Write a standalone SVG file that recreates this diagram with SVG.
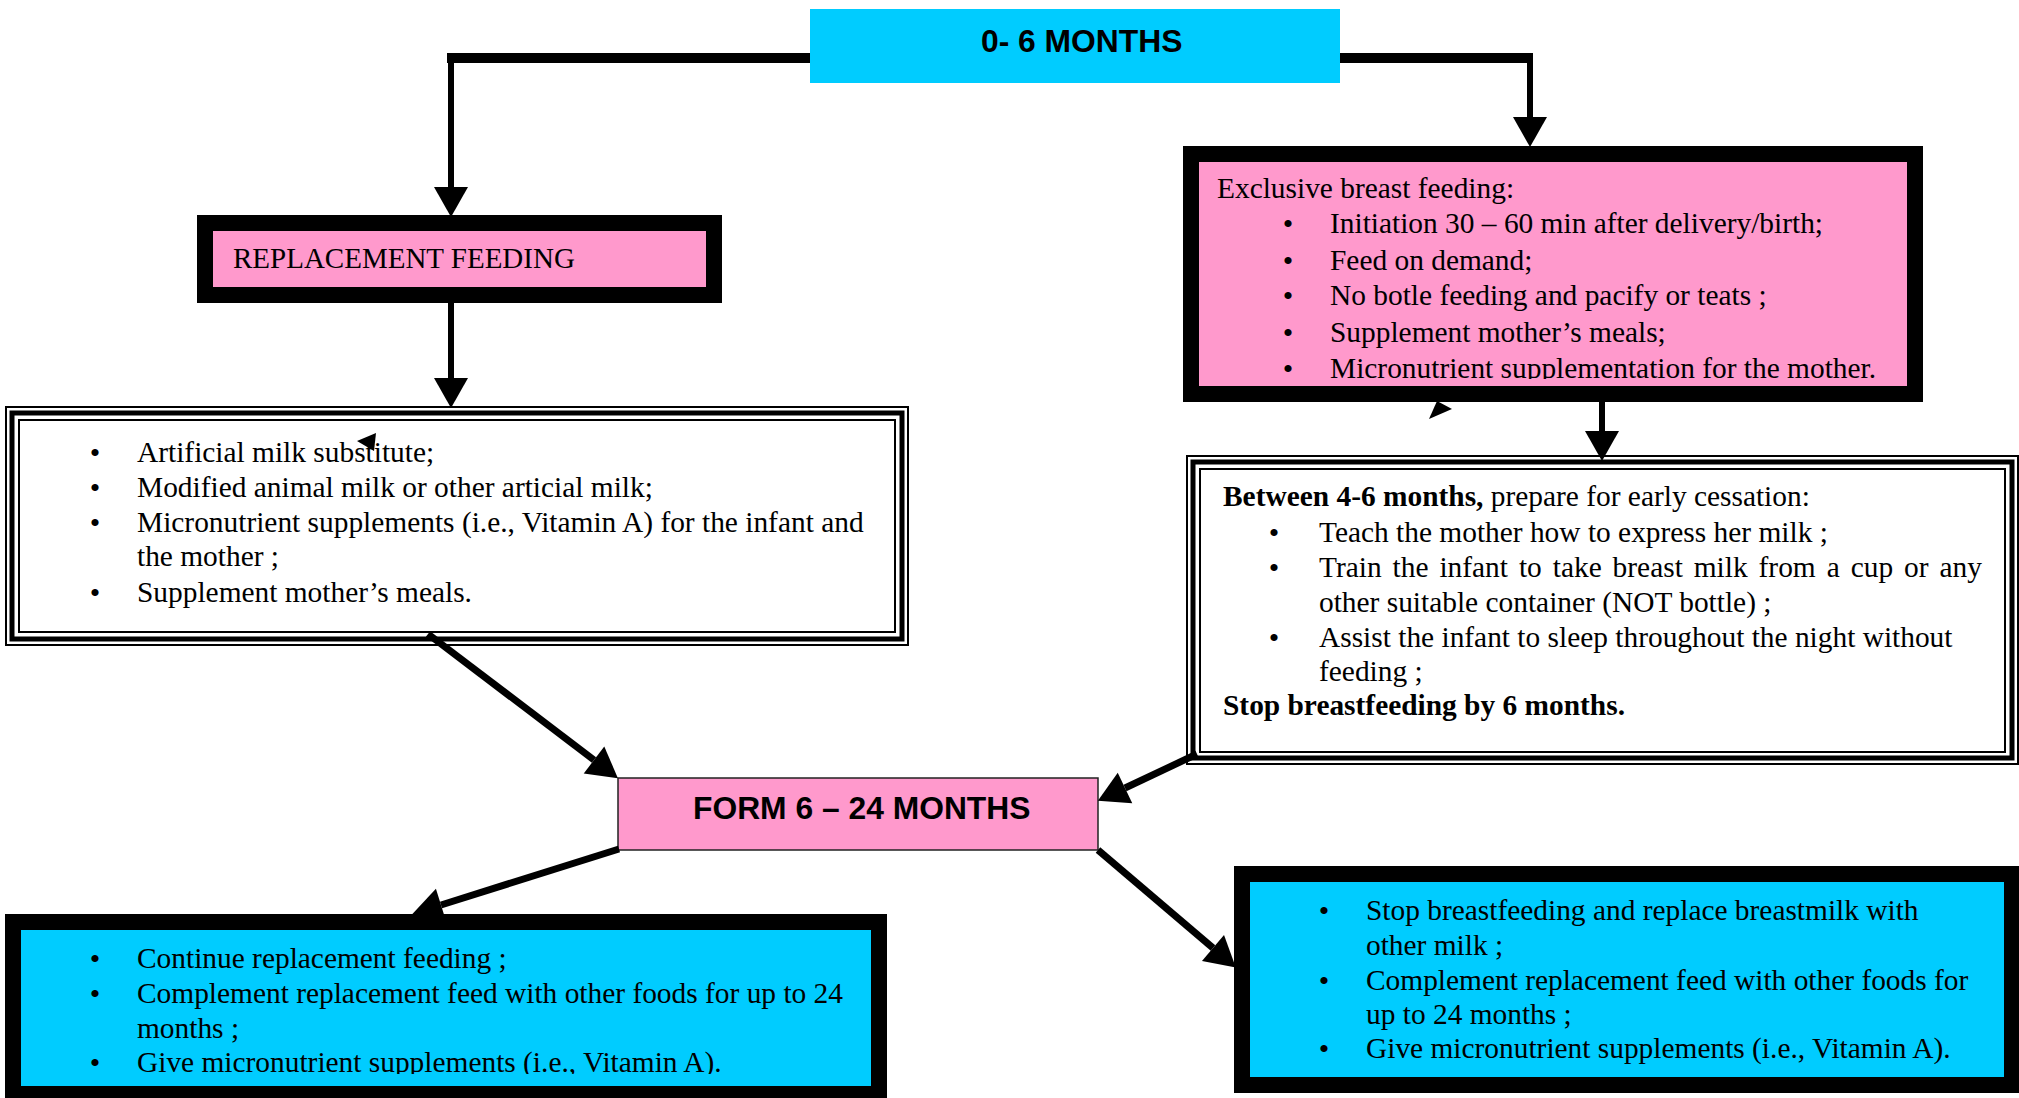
<svg xmlns="http://www.w3.org/2000/svg" width="2019" height="1098" viewBox="0 0 2019 1098">
<style>
.t{font-family:"Liberation Serif","Times New Roman",serif;font-size:29.4px;fill:#000}
.b{font-weight:bold}
.h{font-family:"Liberation Sans",Arial,sans-serif;font-size:31.8px;font-weight:bold;fill:#000}
.bl{font-family:"Liberation Serif","Times New Roman",serif;font-size:30px;fill:#000;text-anchor:middle}
.thin{fill:none;stroke:#000;stroke-width:2}
.thick{fill:none;stroke:#000;stroke-width:5}
.con{fill:none;stroke:#000;stroke-width:7}
.bar{fill:none;stroke:#000;stroke-width:10}
.vert{fill:none;stroke:#000;stroke-width:6}
</style>
<defs>
<marker id="ah" markerUnits="userSpaceOnUse" markerWidth="32" markerHeight="34" refX="0" refY="17" orient="auto" overflow="visible">
<path d="M0,0 L30,17 L0,34 z" fill="#000"/>
</marker>
<clipPath id="clipEx"><rect x="1199" y="162" width="708" height="217"/></clipPath>
<clipPath id="clipBL"><rect x="21" y="930" width="850" height="144"/></clipPath>
</defs>

<g id="node-0-6">
<rect x="810" y="9" width="530" height="74" fill="#00CCFF"/>
<text class="h" x="981" y="52">0- 6 MONTHS</text>
</g>

<g id="node-replacement">
<rect x="205" y="223" width="509" height="72" fill="#FF99CC" stroke="#000" stroke-width="16"/>
<text class="t" x="233" y="268" style="font-size:29px">REPLACEMENT FEEDING</text>
</g>

<g id="node-exclusive">
<rect x="1191" y="154" width="724" height="240" fill="#FF99CC" stroke="#000" stroke-width="16"/>
<g clip-path="url(#clipEx)">
<text class="t" x="1217" y="198">Exclusive breast feeding:</text>
<text class="bl" x="1288" y="234">•</text>
<text class="t" x="1330" y="233">Initiation 30 – 60 min after delivery/birth;</text>
<text class="bl" x="1288" y="271">•</text>
<text class="t" x="1330" y="270">Feed on demand;</text>
<text class="bl" x="1288" y="306">•</text>
<text class="t" x="1330" y="305">No botle feeding and pacify or teats ;</text>
<text class="bl" x="1288" y="343">•</text>
<text class="t" x="1330" y="342">Supplement mother’s meals;</text>
<text class="bl" x="1288" y="379">•</text>
<text class="t" x="1330" y="378">Micronutrient supplementation for the mother.</text>
</g>
</g>

<g id="node-artificial">
<rect x="6" y="407" width="902" height="238" fill="#fff"/>
<rect class="thin" x="6" y="407" width="902" height="238"/>
<rect class="thick" x="12" y="413" width="890" height="226"/>
<rect class="thin" x="19" y="420" width="876" height="212"/>
<text class="bl" x="95" y="463">•</text>
<text class="t" x="137" y="462">Artificial milk substitute;</text>
<text class="bl" x="95" y="498">•</text>
<text class="t" x="137" y="497">Modified animal milk or other articial milk;</text>
<text class="bl" x="95" y="533">•</text>
<text class="t" x="137" y="532">Micronutrient supplements (i.e., Vitamin A) for the infant and</text>
<text class="t" x="137" y="566">the mother ;</text>
<text class="bl" x="95" y="603">•</text>
<text class="t" x="137" y="602">Supplement mother’s meals.</text>
</g>

<g id="node-between">
<rect x="1187" y="456" width="831" height="308" fill="#fff"/>
<rect class="thin" x="1187" y="456" width="831" height="308"/>
<rect class="thick" x="1193" y="462" width="819" height="296"/>
<rect class="thin" x="1200" y="469" width="805" height="283"/>
<text class="t" x="1223" y="506"><tspan class="b">Between 4-6 months,</tspan> prepare for early cessation:</text>
<text class="bl" x="1274" y="543">•</text>
<text class="t" x="1319" y="542">Teach the mother how to express her milk ;</text>
<text class="bl" x="1274" y="578">•</text>
<text class="t" x="1319" y="577" word-spacing="3.6">Train the infant to take breast milk from a cup or any</text>
<text class="t" x="1319" y="612">other suitable container (NOT bottle) ;</text>
<text class="bl" x="1274" y="648">•</text>
<text class="t" x="1319" y="647">Assist the infant to sleep throughout the night without</text>
<text class="t" x="1319" y="681">feeding ;</text>
<text class="t b" x="1223" y="715">Stop breastfeeding by 6 months.</text>
</g>

<g id="node-6-24">
<rect x="618" y="778" width="480" height="72" fill="#FF99CC" stroke="#222" stroke-width="1.5"/>
<text class="h" x="693" y="819">FORM 6 – 24 MONTHS</text>
</g>

<g id="node-continue">
<rect x="13" y="922" width="866" height="172" fill="#00CCFF" stroke="#000" stroke-width="16"/>
<g clip-path="url(#clipBL)">
<text class="bl" x="95" y="969">•</text>
<text class="t" x="137" y="968">Continue replacement feeding ;</text>
<text class="bl" x="95" y="1004">•</text>
<text class="t" x="137" y="1003">Complement replacement feed with other foods for up to 24</text>
<text class="t" x="137" y="1038">months ;</text>
<text class="bl" x="95" y="1073">•</text>
<text class="t" x="137" y="1072">Give micronutrient supplements (i.e., Vitamin A).</text>
</g>
</g>

<g id="node-stop">
<rect x="1242" y="874" width="770" height="211" fill="#00CCFF" stroke="#000" stroke-width="16"/>
<text class="bl" x="1324" y="921">•</text>
<text class="t" x="1366" y="920">Stop breastfeeding and replace breastmilk with</text>
<text class="t" x="1366" y="955">other milk ;</text>
<text class="bl" x="1324" y="991">•</text>
<text class="t" x="1366" y="990">Complement replacement feed with other foods for</text>
<text class="t" x="1366" y="1024">up to 24 months ;</text>
<text class="bl" x="1324" y="1059">•</text>
<text class="t" x="1366" y="1058">Give micronutrient supplements (i.e., Vitamin A).</text>
</g>

<g id="connectors">
<line class="bar" x1="447" y1="58" x2="810" y2="58"/>
<line class="vert" x1="451" y1="54" x2="451" y2="187" marker-end="url(#ah)"/>
<line class="bar" x1="1340" y1="58" x2="1533" y2="58"/>
<line class="vert" x1="1530" y1="54" x2="1530" y2="117" marker-end="url(#ah)"/>
<line class="vert" x1="451" y1="303" x2="451" y2="378" marker-end="url(#ah)"/>
<line class="vert" x1="1602" y1="402" x2="1602" y2="431" marker-end="url(#ah)"/>
<line class="con" x1="428" y1="634" x2="594" y2="760" marker-end="url(#ah)"/>
<line class="con" x1="1197" y1="754" x2="1125" y2="788" marker-end="url(#ah)"/>
<line class="con" x1="619" y1="849" x2="441" y2="905" marker-end="url(#ah)"/>
<line class="con" x1="1098" y1="850" x2="1213" y2="948" marker-end="url(#ah)"/>
<polygon points="357,441 376,433 374,451" fill="#000"/>
<polygon points="1429,419 1437,401 1452,409" fill="#000"/>
</g>
</svg>
